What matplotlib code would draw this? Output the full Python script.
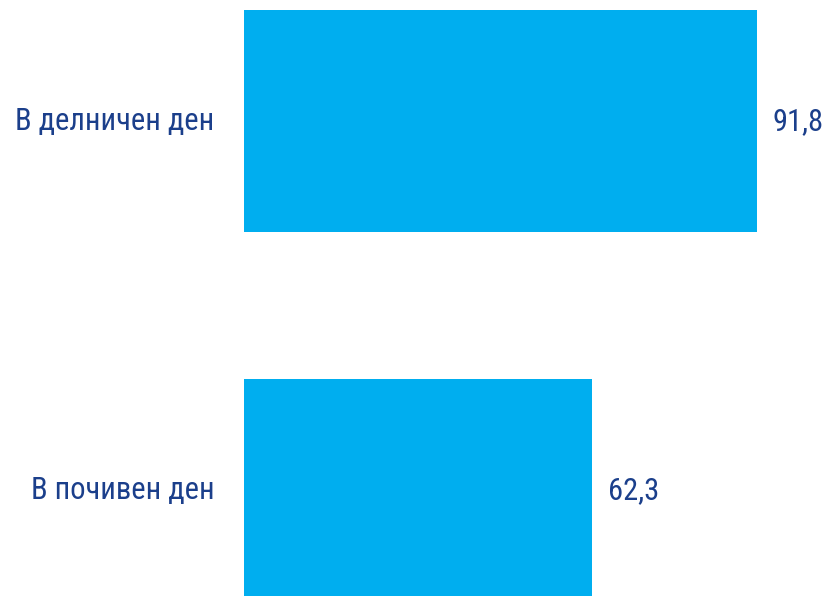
import matplotlib
matplotlib.use("Agg")
import matplotlib.pyplot as plt
from matplotlib import font_manager

categories = ["В делничен ден", "В почивен ден"]
values = [91.8, 62.3]
value_labels = ["91,8", "62,3"]

names = {f.name for f in font_manager.fontManager.ttflist}
fam = [n for n in ["Liberation Sans Narrow", "Roboto Condensed", "Open Sans", "DejaVu Sans"] if n in names]

W, H = 831, 596
fig = plt.figure(figsize=(W / 100, H / 100), dpi=100)
left_px = 243.7
ppu = (756.7 - 243.7) / 91.8
ax = fig.add_axes([left_px / W, 0, 100 * ppu / W, 1])
ax.set_xlim(0, 100)
c0, step = 120.75, 369.25
ax.set_ylim((H - c0) / step, -c0 / step)

bar_color = "#00AEEF"
txt_color = "#1B3F8B"
ys = list(range(len(categories)))
ax.barh(ys, values, height=0.6, color=bar_color)
fs = 22
for y, v, lab, cat in zip(ys, values, value_labels, categories):
    ax.annotate(lab, (v, y), xytext=(16, -1), textcoords="offset pixels",
                ha="left", va="center", fontsize=fs, color=txt_color, family=fam)
    ax.annotate(cat, (0, y), xytext=(-29, -1), textcoords="offset pixels",
                ha="right", va="center", fontsize=fs, color=txt_color, family=fam)
ax.axis("off")
fig.savefig("out.png", dpi=100)
